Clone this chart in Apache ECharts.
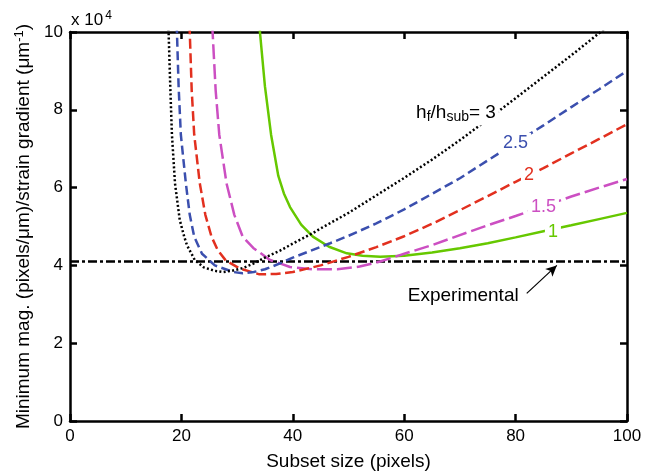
<!DOCTYPE html>
<html><head><meta charset="utf-8">
<script src="https://cdn.jsdelivr.net/npm/echarts@6/dist/echarts.min.js"></script>
<style>html,body{margin:0;padding:0;background:#fff}#c{width:651px;height:471px}</style>
</head><body><div id="c"></div>
<script>
// values in units of 10^4
const h3 = [[17.6,10.3],[17.7,10.0],[18.0,8.6],[18.3,7.36],[18.85,6.11],[19.7,5.17],[20.5,4.74],[21.0,4.52],[22.4,4.14],[24,3.95],[26,3.86],[27.5,3.83],[29,3.86],[31,3.93],[33,4.05],[35,4.2],[37.7,4.38],[40,4.56],[43.6,4.83],[45,4.95],[50,5.35],[55,5.8],[60,6.25],[65,6.72],[70,7.22],[75,7.75],[80,8.3],[85,8.85],[90,9.4],[95,9.97],[97,10.2]];
const h25 = [[19.15,10.2],[19.2,10.0],[19.5,8.6],[19.9,7.36],[20.8,6.11],[21.5,5.3],[22.3,4.74],[23.7,4.3],[26,4.0],[29.3,3.83],[31,3.8],[33,3.83],[35,3.9],[37.7,4.05],[40,4.2],[46.7,4.57],[50,4.76],[55,5.08],[60,5.44],[65,5.84],[70,6.24],[75,6.7],[80,7.15],[85,7.6],[90,8.07],[95,8.53],[100,9.0]];
const h2 = [[21.45,10.2],[21.5,10.0],[21.85,8.5],[22.3,7.36],[23.3,6.11],[24.3,5.3],[25.4,4.74],[26.5,4.4],[28,4.12],[30.5,3.92],[34,3.77],[37,3.78],[40,3.83],[45,4.0],[50,4.22],[55,4.47],[60,4.75],[65,5.07],[70,5.42],[75,5.78],[80,6.15],[85,6.5],[90,6.88],[95,7.25],[100,7.63]];
const h15 = [[25.55,10.2],[25.6,10.0],[26.15,8.5],[26.8,7.36],[28.1,6.11],[29.5,5.3],[31.0,4.74],[32.9,4.45],[35.9,4.14],[39.5,3.96],[43.6,3.9],[48,3.9],[52,3.97],[55.7,4.1],[60,4.3],[65,4.52],[70,4.78],[75,5.03],[80,5.27],[85,5.52],[90,5.77],[95,6.0],[100,6.22]];
const h1 = [[34.05,10.2],[34.1,10.0],[35.0,8.6],[36.1,7.36],[37.4,6.3],[38.4,5.85],[39.5,5.5],[41.5,5.05],[43.6,4.74],[46.5,4.48],[49.7,4.31],[52.5,4.25],[55.7,4.22],[60,4.25],[65,4.33],[70,4.44],[75,4.57],[80,4.72],[85,4.88],[90,5.03],[95,5.19],[100,5.35]];
const experimental = [[0,4.1],[100,4.1]];
const xTicks = [0,20,40,60,80,100];
const yTicks = [0,2,4,6,8,10];
const curveLabels = [
  {x:69.3, y:7.92, text:'h{sub|f}/h{sub|sub}= 3', color:'#000'},
  {x:80.0, y:7.15, text:'2.5', color:'#3b4fae'},
  {x:82.4, y:6.32, text:'2', color:'#e2301f'},
  {x:85.0, y:5.5, text:'1.5', color:'#cc4fc2'},
  {x:86.7, y:4.86, text:'1', color:'#66c800'}
];
const expLabel = {x:70.6, y:3.22, text:'Experimental'};
const arrowFrom = [82.0, 3.28];
const arrowTo = [87.4, 4.0];

const font = 'Liberation Sans, Arial, Helvetica, sans-serif';
const chart = echarts.init(document.getElementById('c'), null, {renderer:'canvas'});

function lineSeries(data, color, type, width, labelIdx) {
  const l = curveLabels[labelIdx];
  return {
    type:'line', data:data, showSymbol:false, symbol:'none', smooth:false,
    lineStyle:{color:color, width:width, type:type, cap:'butt'},
    clip:true, z:3,
    markPoint:{
      symbol:'rect', symbolSize:0, silent:true, animation:false,
      data:[{coord:[l.x,l.y]}],
      label:{show:true, position:'inside', formatter:l.text, color:l.color, fontFamily:font, fontSize:labelIdx===0?19:18,
        backgroundColor:'#fff', padding:[1,3,1,3],
        rich:{sub:{fontSize:14, fontFamily:font, color:l.color, padding:[9,0,0,0]}}}
    }
  };
}

const axisCommon = {
  min:0, max:100, interval:20,
  axisLine:{show:true, onZero:false, lineStyle:{color:'#000', width:2.5}},
  axisTick:{show:true, inside:true, length:7, lineStyle:{color:'#000', width:2.5}},
  splitLine:{show:false}
};

chart.setOption({
  animation:false,
  backgroundColor:'#fff',
  grid:{left:70, right:24, top:32, bottom:50, containLabel:false, outerBoundsMode:'none'},
  xAxis:[
    Object.assign({}, axisCommon, {type:'value', position:'bottom',
      name:'Subset size (pixels)', nameLocation:'middle', nameGap:31,
      nameTextStyle:{fontFamily:font, fontSize:19, color:'#000'},
      axisLabel:{color:'#000', fontFamily:font, fontSize:17, margin:7,
        formatter:v=>xTicks.includes(v)?String(v):''}}),
    Object.assign({}, axisCommon, {type:'value', position:'top', axisLabel:{show:false}})
  ],
  yAxis:[
    Object.assign({}, axisCommon, {type:'value', position:'left', min:0, max:10, interval:2,
      name:'{a|Minimum mag. (pixels/μm)/strain gradient (μm}{s|-1}{a|)}', nameLocation:'middle', nameGap:34,
      nameTextStyle:{fontFamily:font, fontSize:19, color:'#000',
        rich:{a:{fontFamily:font, fontSize:19, color:'#000'}, s:{fontFamily:font, fontSize:13, color:'#000', padding:[0,0,9,0]}}},
      axisLabel:{color:'#000', fontFamily:font, fontSize:17, margin:7,
        formatter:v=>yTicks.includes(v)?String(v):''}}),
    Object.assign({}, axisCommon, {type:'value', position:'right', min:0, max:10, interval:2, axisLabel:{show:false}})
  ],
  graphic:[{
    type:'text', left:71, top:10,
    style:{text:'x 10{s|4}', font:'17px '+font, fill:'#000',
      rich:{s:{fontSize:12, fontFamily:font, fill:'#000', padding:[0,0,9,2]}}}
  }],
  series:[
    {
      type:'line', data:experimental, showSymbol:false, symbol:'none', z:2,
      lineStyle:{color:'#000', width:2.5, type:[9,3,3,3]},
      markPoint:{symbol:'rect', symbolSize:0, silent:true,
        data:[{coord:[expLabel.x,expLabel.y]}],
        label:{show:true, position:'inside', formatter:expLabel.text, color:'#000', fontFamily:font, fontSize:19}},
      markLine:{silent:true, symbol:['none','arrow'], symbolSize:[8,11], label:{show:false},
        lineStyle:{color:'#000', width:1.2, type:'solid'},
        data:[[{coord:arrowFrom},{coord:arrowTo}]]}
    },
    lineSeries(h1, '#66c800', 'solid', 2.5, 4),
    lineSeries(h15, '#cc4fc2', [15,5], 2.5, 3),
    lineSeries(h2, '#e2301f', [10,4.5], 2.5, 2),
    lineSeries(h25, '#3b4fae', [9,4.5], 2.5, 1),
    lineSeries(h3, '#000', [2,2.3], 2.5, 0)
  ]
});
</script></body></html>
